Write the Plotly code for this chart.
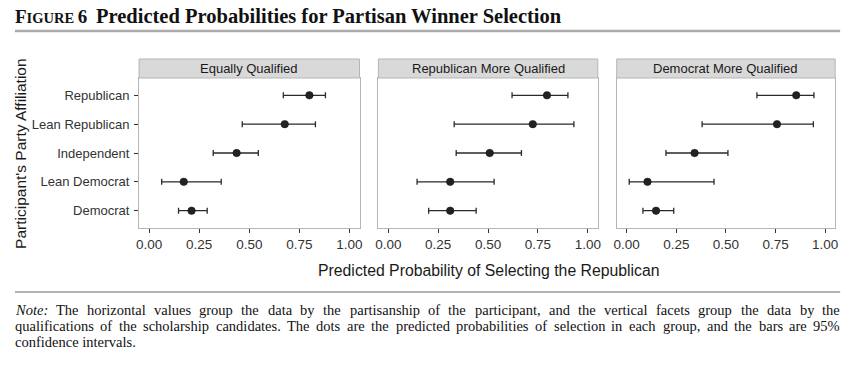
import plotly.graph_objects as go

# ---------------- data ----------------
categories = ["Democrat", "Lean Democrat", "Independent", "Lean Republican", "Republican"]
facets = ["Equally Qualified", "Republican More Qualified", "Democrat More Qualified"]

eq_est = [0.212, 0.173, 0.437, 0.677, 0.800]
eq_lo = [0.147, 0.063, 0.320, 0.465, 0.670]
eq_hi = [0.290, 0.360, 0.545, 0.830, 0.880]

rep_est = [0.310, 0.310, 0.508, 0.724, 0.795]
rep_lo = [0.202, 0.144, 0.340, 0.330, 0.620]
rep_hi = [0.440, 0.530, 0.667, 0.930, 0.900]

dem_est = [0.148, 0.105, 0.342, 0.757, 0.854]
dem_lo = [0.082, 0.013, 0.198, 0.380, 0.656]
dem_hi = [0.237, 0.440, 0.510, 0.940, 0.943]

x_ticks = [0, 0.25, 0.5, 0.75, 1.0]
x_title = "Predicted Probability of Selecting the Republican"
y_title = "Participant's Party Affiliation"
fig_title_main = "Predicted Probabilities for Partisan Winner Selection"
note_lines = [
    "Note: The horizontal values group the data by the partisanship of the participant, and the vertical facets group the data by the",
    "qualifications of the scholarship candidates. The dots are the predicted probabilities of selection in each group, and the bars are 95%",
    "confidence intervals.",
]

# ---------------- layout helpers ----------------
W, H = 864, 365
def px(x):
    return x / W
def py(y):
    return 1 - y / H

panel_px = [(137, 359), (378, 599), (618, 838)]
plot_top, plot_bot = 78, 228
strip_top = 59

series = [(eq_est, eq_lo, eq_hi), (rep_est, rep_lo, rep_hi), (dem_est, dem_lo, dem_hi)]

fig = go.Figure()
sans = "Liberation Sans, Arial, sans-serif"
serif = "Liberation Serif, Times New Roman, serif"

for i, (est, lo, hi) in enumerate(series):
    ax = "" if i == 0 else str(i + 1)
    fig.add_trace(go.Scatter(
        x=est, y=categories, mode="markers",
        xaxis="x" + ax, yaxis="y" + ax,
        marker=dict(size=7.5, color="#222222", line=dict(width=0.5, color="#111111")),
        error_x=dict(type="data", symmetric=False,
                     array=[h - e for h, e in zip(hi, est)],
                     arrayminus=[e - l for e, l in zip(est, lo)],
                     color="#2a2a2a", thickness=1.3, width=3),
        showlegend=False, hoverinfo="skip",
    ))
    x0, x1 = panel_px[i]
    fig.layout["xaxis" + ax] = dict(
        domain=[px(x0), px(x1)], anchor="y" + ax, range=[-0.05, 1.05],
        tickvals=x_ticks, tickformat=".2f", ticks="outside", ticklen=4,
        tickcolor="#333333", tickwidth=1,
        tickfont=dict(family=sans, size=13.5, color="#333333"),
        showgrid=False, zeroline=False, showline=True, mirror=True,
        linecolor="#b5b5b5", linewidth=1, fixedrange=True,
    )
    fig.layout["yaxis" + ax] = dict(
        domain=[py(plot_bot), py(plot_top)], anchor="x" + ax,
        type="category", categoryorder="array", categoryarray=categories,
        range=[-0.6, 4.6],
        ticks="outside" if i == 0 else "", ticklen=4, tickcolor="#333333",
        showticklabels=(i == 0), ticklabelstandoff=2,
        tickfont=dict(family=sans, size=13, color="#333333"),
        showgrid=False, zeroline=False, showline=True, mirror=True,
        linecolor="#b5b5b5", linewidth=1, fixedrange=True,
    )

shapes = []
annotations = []
for i, f in enumerate(facets):
    x0, x1 = panel_px[i]
    shapes.append(dict(type="rect", xref="paper", yref="paper",
                       x0=px(x0), x1=px(x1), y0=py(plot_top), y1=py(strip_top),
                       fillcolor="#d9d9d9", line=dict(color="#b5b5b5", width=1)))
    annotations.append(dict(text=f, xref="paper", yref="paper",
                            x=px((x0 + x1) / 2), y=py((strip_top + plot_top) / 2),
                            xanchor="center", yanchor="middle", showarrow=False,
                            font=dict(family=sans, size=13, color="#1a1a1a")))

# rules
shapes.append(dict(type="line", xref="paper", yref="paper",
                   x0=px(12), x1=px(843), y0=py(31), y1=py(31),
                   line=dict(color="#aaaaaa", width=2.5)))
shapes.append(dict(type="line", xref="paper", yref="paper",
                   x0=px(12), x1=px(843), y0=py(292), y1=py(292),
                   line=dict(color="#666666", width=1)))

# title
annotations.append(dict(
    text="<b><span style='font-size:19px'>F</span>IGURE <span style='font-size:19px'>6</span></b>",
    xref="paper", yref="paper", x=px(10), y=py(16), xanchor="left", yanchor="middle",
    showarrow=False, font=dict(family=serif, size=14.5, color="#111111")))
annotations.append(dict(
    text="<b>" + fig_title_main + "</b>",
    xref="paper", yref="paper", x=px(92), y=py(16), xanchor="left", yanchor="middle",
    showarrow=False, font=dict(family=serif, size=20.5, color="#111111")))

# axis titles
annotations.append(dict(text=x_title, xref="paper", yref="paper",
                        x=px(489), y=py(270), xanchor="center", yanchor="middle",
                        showarrow=False, font=dict(family=sans, size=15.8, color="#1a1a1a")))
annotations.append(dict(text=y_title, xref="paper", yref="paper",
                        x=px(18), y=py(153), xanchor="center", yanchor="middle",
                        textangle=-90, showarrow=False,
                        font=dict(family=sans, size=15.5, color="#1a1a1a")))

# note: justified lines (Times metrics, per-mille of em)
_w = {' ': 250, 'a': 444, 'b': 500, 'c': 444, 'd': 500, 'e': 444, 'f': 333, 'g': 500,
      'h': 500, 'i': 278, 'j': 278, 'k': 500, 'l': 278, 'm': 778, 'n': 500, 'o': 500,
      'p': 500, 'q': 500, 'r': 333, 's': 389, 't': 278, 'u': 500, 'v': 500, 'w': 722,
      'x': 500, 'y': 500, 'z': 444, 'T': 611, 'N': 722, '.': 250, ',': 250, ':': 278,
      '9': 500, '5': 500, '%': 833}
NOTE_SIZE = 14.5
def word_w(s):
    return sum(_w.get(c, 500) for c in s) / 1000 * NOTE_SIZE

left, right = 12, 843
for k, line in enumerate(note_lines):
    yk = py(310 + 16 * k)
    words = line.split(" ")
    justify = k < len(note_lines) - 1
    if justify:
        widths = [word_w(wd) for wd in words]
        gap = (right - left - sum(widths)) / (len(words) - 1)
        xpos = left
        for j, wd in enumerate(words):
            txt = "<i>Note:</i>" if wd == "Note:" else wd
            last = j == len(words) - 1
            annotations.append(dict(text=txt, xref="paper", yref="paper",
                                    x=px(right + 1) if last else px(xpos - 1), y=yk,
                                    xanchor="right" if last else "left", yanchor="middle",
                                    showarrow=False, borderpad=0,
                                    font=dict(family=serif, size=NOTE_SIZE, color="#111111")))
            xpos += widths[j] + gap
    else:
        annotations.append(dict(text=line, xref="paper", yref="paper",
                                x=px(left - 1), y=yk, xanchor="left", yanchor="middle",
                                showarrow=False, borderpad=0,
                                font=dict(family=serif, size=NOTE_SIZE, color="#111111")))

fig.update_layout(
    width=W, height=H, margin=dict(l=0, r=0, t=0, b=0),
    paper_bgcolor="white", plot_bgcolor="white",
    shapes=shapes, annotations=annotations,
)

fig.write_html("out.html", config={"displayModeBar": False},
               post_script="document.body.style.margin='0';document.body.style.overflow='hidden';")
